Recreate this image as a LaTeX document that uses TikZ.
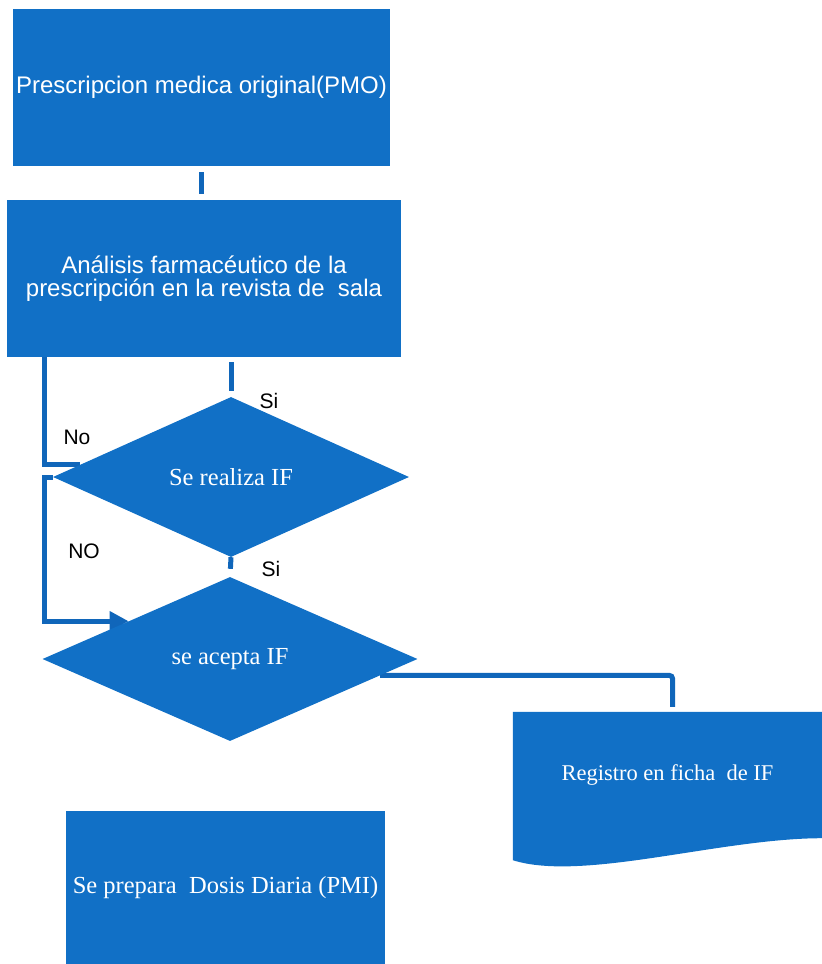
\documentclass[tikz,border=0pt]{standalone}
\usepackage{fontspec}
\setmainfont{Liberation Serif}
\setsansfont{Liberation Sans}
\usetikzlibrary{shapes.geometric}
\usetikzlibrary{arrows.meta}
\usetikzlibrary{backgrounds}
\usetikzlibrary{calc}

\definecolor{flowblue}{RGB}{17,112,198}
\definecolor{lineblue}{RGB}{16,102,186}

\begin{document}
\begin{tikzpicture}[x=1pt,y=-1pt,
        sansbox/.style={fill=flowblue,text=white,inner sep=0pt,align=center,
            font=\sffamily\fontsize{24}{23}\selectfont},
        serifbox/.style={fill=flowblue,text=white,inner sep=0pt,
            font=\fontsize{24.5}{28}\selectfont},
        decision/.style={diamond,serifbox},
        conn/.style={draw=lineblue,line width=5pt},
        answer/.style={font=\sffamily\fontsize{21}{24}\selectfont}]

        \useasboundingbox (0,0) rectangle (822,964);

        \node[sansbox,minimum width=377,minimum height=157] (PMO) at (201.5,87.5)
            {Prescripcion medica original(PMO)};
        \node[sansbox,minimum width=394,minimum height=157] (AF) at (204,278.5)
            {Análisis farmacéutico de la\\prescripción en la revista de\ \ sala};
        \node[decision,minimum width=356,minimum height=160] (SR) at (231,477) {Se realiza IF};
        \node[decision,minimum width=375,minimum height=164] (SA) at (230,659) {se acepta IF};
        \node[serifbox,fill=none,minimum width=309,minimum height=126,
            font=\fontsize{22.5}{26}\selectfont] (RF) at (667.5,775) {Registro en ficha\ \ de IF};
        \node[serifbox,minimum width=319,minimum height=153] (DD) at (225.5,887.5)
            {Se prepara\ \ Dosis Diaria (PMI)};

        \foreach \x/\y/\t/\n in {269/401/Si/SIa, 77/437/No/NOa, 84/551/NO/NOb, 271/569/Si/SIb}
            \node[answer] (\n) at (\x,\y) {\t};

        \coordinate (L) at (44,0);
        \begin{scope}[on background layer]
        \fill[flowblue] (RF.north west) -- (RF.north east) -- (RF.south east)
            .. controls +(-102,0) and +(70,22) .. ([yshift=-22pt]RF.south west) -- cycle;
        \draw[conn,shorten <=6pt,shorten >=6pt] (PMO.south) -- (PMO.south |- AF.north);
        \draw[conn,shorten <=5pt,shorten >=6pt] (SR.north |- AF.south) -- (SR.north);
        \draw[conn,shorten >=8pt] (SR.south) -- (SA.north);
        \draw[conn] (AF.south -| L) |- ($(SR.west)!0.15!(SR.north)$);
        \draw[conn,-{Triangle[length=19pt,width=19pt]}] (SR.west) -- (SR.west -| L)
            |- ($(SA.west)!0.46!(SA.north)$);
        \draw[conn,rounded corners=3pt,shorten >=5pt] ($(SA.east)!0.2!(SA.south)$)
            -| ([xshift=5pt]RF.north);
        \end{scope}
    \end{tikzpicture}
\end{document}
